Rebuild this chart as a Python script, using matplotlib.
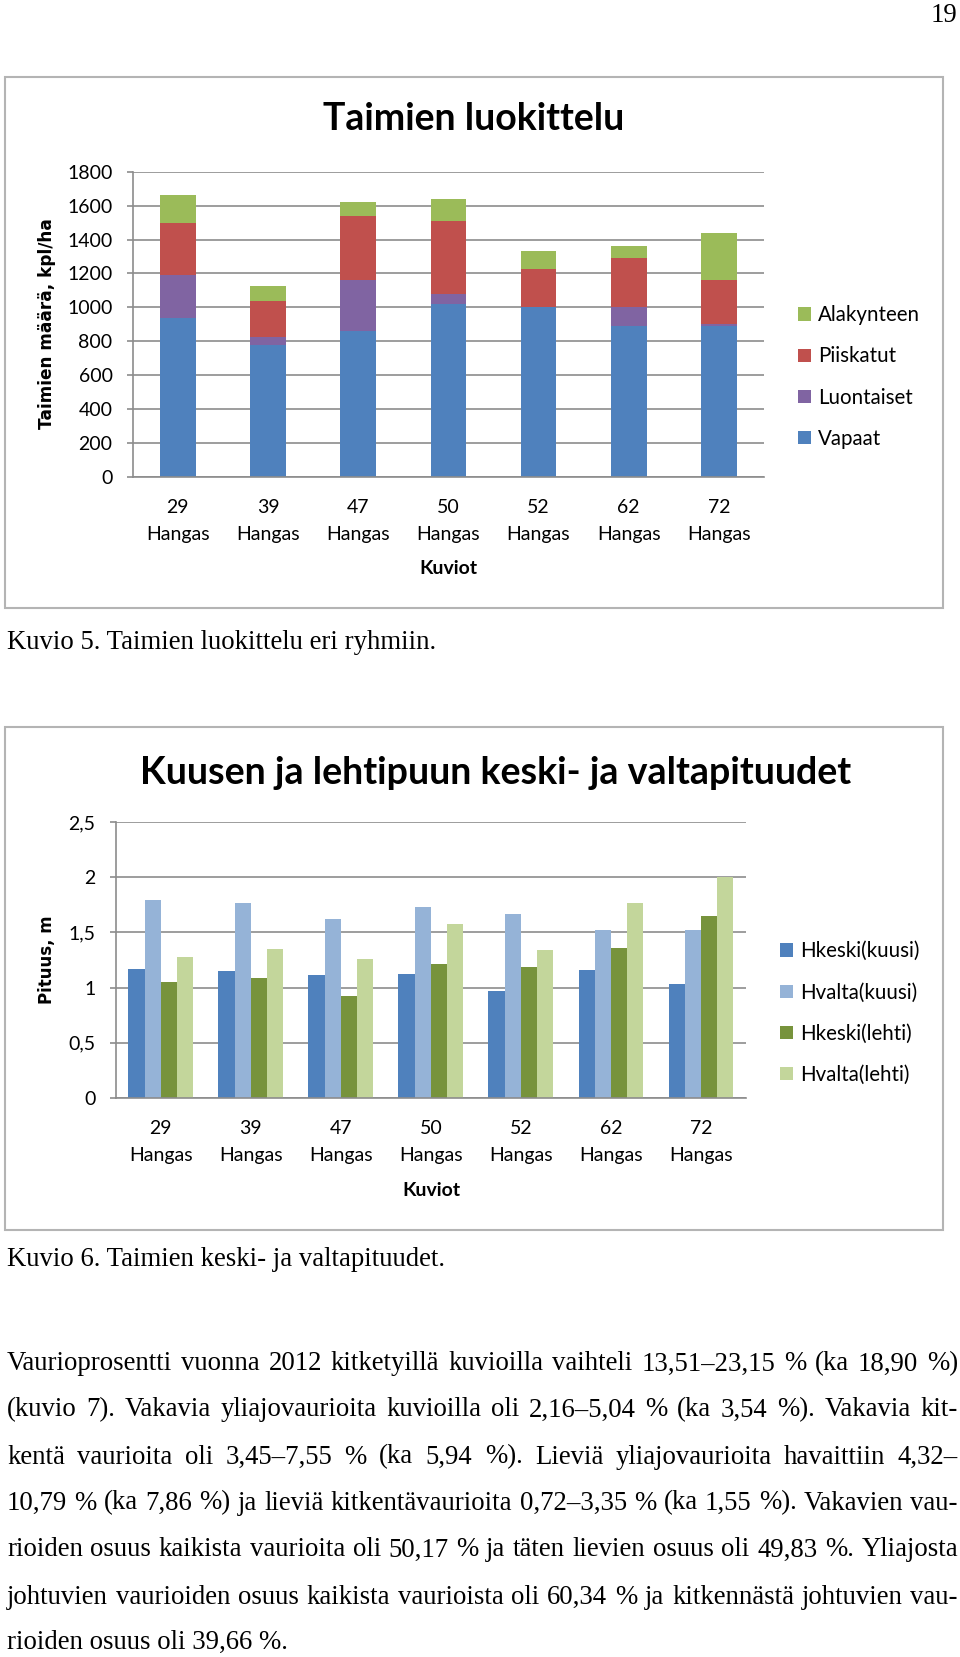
import matplotlib
matplotlib.use("Agg")
import matplotlib.pyplot as plt
from matplotlib.patches import Rectangle
import numpy as np

# ---------------- data ----------------
kuviot = ["29", "39", "47", "50", "52", "62", "72"]
tyyppi = "Hangas"

vapaat = [940, 780, 860, 1020, 1000, 890, 890]
luontaiset = [250, 45, 300, 60, 0, 110, 10]
piiskatut = [310, 210, 380, 430, 225, 290, 260]
alakynteen = [160, 90, 80, 130, 110, 70, 280]

hkeski_kuusi = [1.17, 1.15, 1.11, 1.12, 0.97, 1.16, 1.03]
hvalta_kuusi = [1.79, 1.77, 1.62, 1.73, 1.67, 1.52, 1.52]
hkeski_lehti = [1.05, 1.09, 0.92, 1.21, 1.19, 1.36, 1.65]
hvalta_lehti = [1.28, 1.35, 1.26, 1.58, 1.34, 1.77, 2.00]

y1_ticks = [0, 200, 400, 600, 800, 1000, 1200, 1400, 1600, 1800]
y2_ticks = [0, 0.5, 1, 1.5, 2, 2.5]
y2_labels = ["0", "0,5", "1", "1,5", "2", "2,5"]

caption5 = "Kuvio 5. Taimien luokittelu eri ryhmiin."
caption6 = "Kuvio 6. Taimien keski- ja valtapituudet."
paragraph_lines = [
    "Vaurioprosentti vuonna 2012 kitketyillä kuvioilla vaihteli 13,51–23,15 % (ka 18,90 %)",
    "(kuvio 7). Vakavia yliajovaurioita kuvioilla oli 2,16–5,04 % (ka 3,54 %). Vakavia kit-",
    "kentä vaurioita oli 3,45–7,55 % (ka 5,94 %). Lieviä yliajovaurioita havaittiin 4,32–",
    "10,79 % (ka 7,86 %) ja lieviä kitkentävaurioita 0,72–3,35 % (ka 1,55 %). Vakavien vau-",
    "rioiden osuus kaikista vaurioita oli 50,17 % ja täten lievien osuus oli 49,83 %. Yliajosta",
    "johtuvien vaurioiden osuus kaikista vaurioista oli 60,34 % ja kitkennästä johtuvien vau-",
    "rioiden osuus oli 39,66 %.",
]

# ---------------- styling ----------------
W, H = 960, 1657
SANS = "Lato"
SERIF = "Liberation Serif"
GRID = "#8C8C8C"
c_vap, c_luo, c_pii, c_ala = "#4F81BD", "#8064A2", "#C0504D", "#9BBB59"
c_hk_k, c_hv_k, c_hk_l, c_hv_l = "#4F81BD", "#95B3D7", "#77933C", "#C3D69B"

fig = plt.figure(figsize=(W / 100, H / 100), dpi=100)
fig.patch.set_facecolor("white")


def fx(px):
    return px / W


def fy(py):
    return 1 - py / H


def add_ax(l, t, r, b):
    return fig.add_axes([fx(l), fy(b), (r - l) / W, (b - t) / H])


def style_axis(ax):
    for s in ["top", "right"]:
        ax.spines[s].set_visible(False)
    for s in ["left", "bottom"]:
        ax.spines[s].set_color(GRID)
        ax.spines[s].set_linewidth(1.2)
    ax.yaxis.grid(True, color=GRID, linewidth=1.2)
    ax.set_axisbelow(True)
    ax.tick_params(axis="y", length=4.5, width=1.2, color=GRID, pad=10,
                   labelsize=14, labelcolor="black")
    ax.tick_params(axis="x", length=0, pad=16, labelsize=14, labelcolor="black")
    for lab in ax.get_yticklabels() + ax.get_xticklabels():
        lab.set_fontfamily(SANS)
    for lab in ax.get_xticklabels():
        lab.set_linespacing(1.7)


# chart frames
for (l, t, r, b) in [(5, 77, 943, 608), (5, 727, 943, 1230)]:
    fig.patches.append(Rectangle((fx(l), fy(b)), (r - l) / W, (b - t) / H,
                                 transform=fig.transFigure, fill=False,
                                 edgecolor="#B4B4B4", linewidth=1.5))

xlabels = [f"{k}\n{tyyppi}" for k in kuviot]
x = np.arange(len(kuviot))

# ---------------- chart 1 ----------------
ax1 = add_ax(132.7, 171.7, 764, 477)
bw = 0.395
b1 = np.array(vapaat, float)
b2 = b1 + np.array(luontaiset)
b3 = b2 + np.array(piiskatut)
h1 = ax1.bar(x, vapaat, bw, color=c_vap, label="Vapaat")
h2 = ax1.bar(x, luontaiset, bw, bottom=b1, color=c_luo, label="Luontaiset")
h3 = ax1.bar(x, piiskatut, bw, bottom=b2, color=c_pii, label="Piiskatut")
h4 = ax1.bar(x, alakynteen, bw, bottom=b3, color=c_ala, label="Alakynteen")
ax1.set_xlim(-0.5, 6.5)
ax1.set_ylim(0, 1800)
ax1.set_yticks(y1_ticks)
ax1.set_yticklabels([str(v) for v in y1_ticks])
ax1.set_xticks(x)
ax1.set_xticklabels(xlabels)
style_axis(ax1)
ax1.legend(handles=[h4, h3, h2, h1], loc="center left",
           bbox_to_anchor=(fx(790), fy(377)), bbox_transform=fig.transFigure,
           frameon=False, prop={"family": SANS, "size": 14.8},
           handlelength=0.62, handleheight=0.62, handletextpad=0.35,
           labelspacing=1.03, borderaxespad=0)

fig.text(fx(474), fy(119), "Taimien luokittelu", ha="center", va="center",
         family=SANS, weight="bold", size=27)
fig.text(fx(47), fy(324), "Taimien määrä, kpl/ha", ha="center", va="center",
         rotation=90, family="DejaVu Sans", weight="bold", size=12.2)
fig.text(fx(448), fy(568), "Kuviot", ha="center", va="center",
         family=SANS, weight="bold", size=14)

# ---------------- chart 2 ----------------
ax2 = add_ax(115.7, 822, 746, 1098)
w = 0.18
series2 = [(hkeski_kuusi, c_hk_k, "Hkeski(kuusi)"),
           (hvalta_kuusi, c_hv_k, "Hvalta(kuusi)"),
           (hkeski_lehti, c_hk_l, "Hkeski(lehti)"),
           (hvalta_lehti, c_hv_l, "Hvalta(lehti)")]
handles2 = []
for i, (vals, col, lab) in enumerate(series2):
    handles2.append(ax2.bar(x + (i - 1.5) * w, vals, w, color=col, label=lab))
ax2.set_xlim(-0.5, 6.5)
ax2.set_ylim(0, 2.5)
ax2.set_yticks(y2_ticks)
ax2.set_yticklabels(y2_labels)
ax2.set_xticks(x)
ax2.set_xticklabels(xlabels)
style_axis(ax2)
ax2.legend(handles=handles2, loc="center left",
           bbox_to_anchor=(fx(772), fy(1013)), bbox_transform=fig.transFigure,
           frameon=False, prop={"family": SANS, "size": 14.8},
           handlelength=0.62, handleheight=0.62, handletextpad=0.35,
           labelspacing=1.03, borderaxespad=0)

fig.text(fx(496), fy(773), "Kuusen ja lehtipuun keski- ja valtapituudet",
         ha="center", va="center", family=SANS, weight="bold", size=27.1)
fig.text(fx(47), fy(960), "Pituus, m", ha="center", va="center",
         rotation=90, family="DejaVu Sans", weight="bold", size=12)
fig.text(fx(431), fy(1190), "Kuviot", ha="center", va="center",
         family=SANS, weight="bold", size=14)

# ---------------- page text ----------------
TXT = 19.3
fig.text(fx(957), fy(16), "19", ha="right", va="center", family=SERIF, size=TXT)
fig.text(fx(7), fy(643), caption5, ha="left", va="center", family=SERIF, size=TXT)
fig.text(fx(7), fy(1260), caption6, ha="left", va="center", family=SERIF, size=TXT)

renderer = fig.canvas.get_renderer()
left_px, right_px = 7, 958
line_y = [1364, 1410, 1457, 1503, 1550, 1597, 1642]
for li, (line, ypx) in enumerate(zip(paragraph_lines, line_y)):
    words = line.split(" ")
    if li == len(paragraph_lines) - 1:
        fig.text(fx(left_px), fy(ypx), line, ha="left", va="center",
                 family=SERIF, size=TXT)
        continue
    objs = [fig.text(0, fy(ypx), wd, ha="left", va="center", family=SERIF, size=TXT)
            for wd in words]
    widths = [o.get_window_extent(renderer).width for o in objs]
    gap = (right_px - left_px - sum(widths)) / (len(words) - 1)
    xpos = left_px
    for o, wdt in zip(objs, widths):
        o.set_x(fx(xpos))
        xpos += wdt + gap

fig.savefig("out.png", dpi=100, facecolor="white")
